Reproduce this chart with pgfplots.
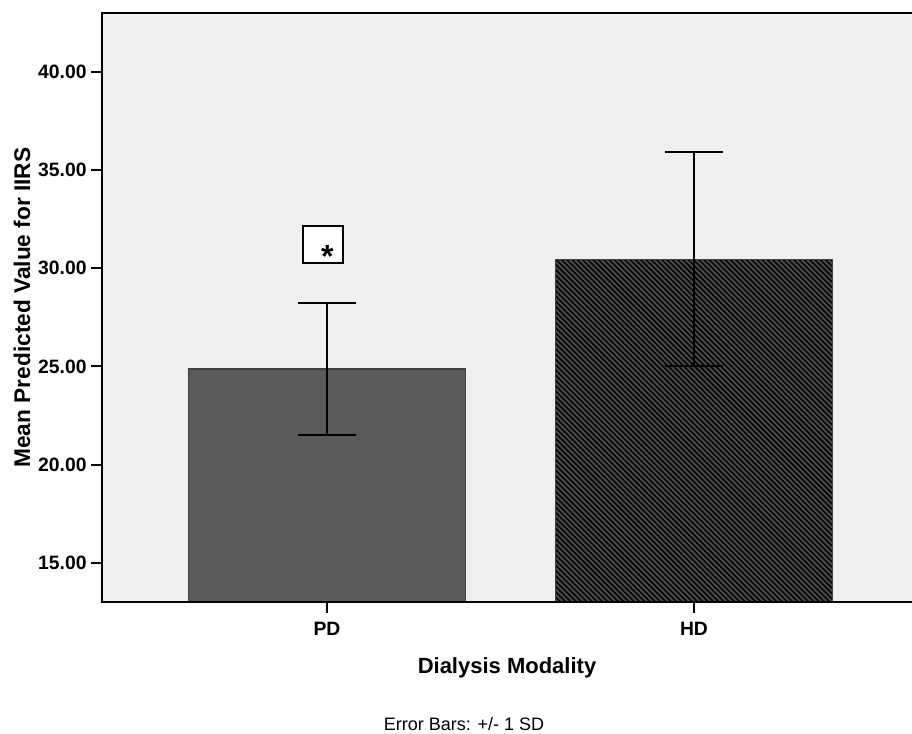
\documentclass[border=0pt]{standalone}
\usepackage{pgfplots}
\pgfplotsset{compat=1.18}
\usepackage{fontspec}
\setmainfont{Liberation Sans}
\usetikzlibrary{patterns.meta}
\definecolor{plotbg}{HTML}{EFEFEF}
\definecolor{pdfill}{HTML}{5A5A5A}
\definecolor{hdfill}{HTML}{4A4A4A}
\begin{document}
\begin{tikzpicture}
\path[use as bounding box] (-76.5pt,-98.25pt) rectangle (607.5pt,451.5pt);
\begin{axis}[
    at={(0pt,0pt)}, anchor=south west,
    scale only axis, width=607.5pt, height=441.75pt,
    xmin=-0.613, xmax=1.594, ymin=13, ymax=43,
    clip mode=individual,
    axis background/.style={fill=plotbg},
    axis line style={draw=none},
    xtick={0,1}, xticklabels={PD,HD},
    ytick={15,20,25,30,35,40},
    tick pos=left, tick align=outside, major tick length=8pt,
    tick style={black, line width=1.5pt},
    /pgf/number format/.cd, fixed, fixed zerofill, precision=2, assume math mode=true,
    /pgfplots/.cd,
    ticklabel style={font=\bfseries\fontsize{14.5}{16}\selectfont},
    xticklabel style={yshift=-3.5pt},
    xlabel={Dialysis Modality},
    ylabel={Mean Predicted Value for IIRS},
    xlabel style={at={(axis description cs:0.5,-0.112)}, anchor=center, font=\bfseries\fontsize{16.5}{18}\selectfont},
    ylabel style={at={(axis description cs:-0.0988,0.5)}, anchor=center, font=\bfseries\fontsize{17}{19}\selectfont},
]
% PD
\addplot[ybar, bar width=0.755, bar shift=0pt, fill=pdfill, draw=black!75, line width=1pt,
    error bars/.cd, y dir=both, y explicit,
    error bar style={line width=1.5pt, black},
    error mark options={rotate=90, mark size=21.75pt, line width=1.5pt, black}]
    coordinates {(0,24.87) +- (0,3.38)};
% HD
\addplot[ybar, bar width=0.755, bar shift=0pt, fill=hdfill, draw=black!75, line width=1pt,
    postaction={pattern={Lines[angle=-45,distance=2.8pt,line width=1.1pt]}, pattern color=black},
    error bars/.cd, y dir=both, y explicit,
    error bar style={line width=1.5pt, black},
    error mark options={rotate=90, mark size=21.75pt, line width=1.5pt, black}]
    coordinates {(1,30.45) +- (0,5.45)};
% axis frame: left, top, bottom
\draw[line width=1.5pt, line cap=rect] (rel axis cs:1.05,1) -- (rel axis cs:0,1) -- (rel axis cs:0,0) -- (rel axis cs:1.05,0);
% significance marker
\node[draw=black, line width=1.4pt, fill=white, minimum width=30pt, minimum height=27.5pt, inner sep=0pt] at (axis cs:-0.01,31.2) {};
\node[inner sep=0pt, font=\bfseries\fontsize{24}{24}\selectfont] at (axis cs:0.001,30.6) {*};
% note
\node[font=\fontsize{13.5}{16}\selectfont] at (axis description cs:0.447,-0.207) {Error Bars: +/- 1 SD};
\end{axis}
\end{tikzpicture}
\end{document}
